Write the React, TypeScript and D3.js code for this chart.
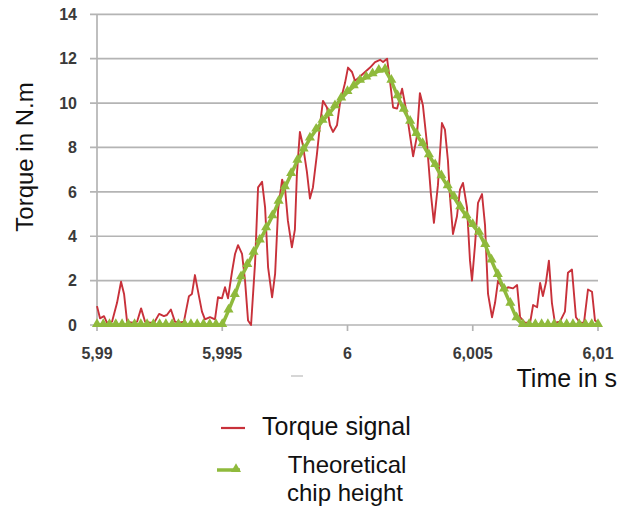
import React from 'react';
import * as d3 from 'd3';

// Torque signal (time in s, torque in N.m)
const torqueTime = [
  5.99, 5.99012, 5.99028, 5.9904, 5.9906, 5.9908, 5.99096, 5.99108, 5.9912, 5.9914,
  5.9916, 5.99176, 5.99192, 5.99212, 5.99228, 5.99248, 5.99267, 5.99279, 5.99295, 5.99311,
  5.99327, 5.99347, 5.99367, 5.99379, 5.99391, 5.99407, 5.99419, 5.99431, 5.99451, 5.99471,
  5.99483, 5.99499, 5.99511, 5.99523, 5.99539, 5.99551, 5.99563, 5.99579, 5.99591, 5.99603,
  5.99615, 5.99631, 5.99643, 5.99659, 5.99671, 5.99683, 5.99699, 5.99711, 5.99723, 5.99739,
  5.99751, 5.99762, 5.99778, 5.9979, 5.99798, 5.9981, 5.99822, 5.99838, 5.9985, 5.99862,
  5.99878, 5.9989, 5.99902, 5.99918, 5.9993, 5.99942, 5.99958, 5.9997, 5.9999, 6.00002,
  6.00018, 6.0003, 6.0005, 6.0007, 6.0009, 6.0011, 6.0013, 6.00142, 6.00158, 6.0017,
  6.00182, 6.00198, 6.00218, 6.00238, 6.0025, 6.00262, 6.00277, 6.00289, 6.00301, 6.00317,
  6.00333, 6.00345, 6.00361, 6.00377, 6.00389, 6.00401, 6.00409, 6.00421, 6.00437, 6.00449,
  6.00461, 6.00477, 6.00489, 6.00497, 6.00509, 6.00521, 6.00537, 6.00549, 6.00561, 6.00577,
  6.00589, 6.00601, 6.00617, 6.00629, 6.00641, 6.00661, 6.00677, 6.00689, 6.00709, 6.00729,
  6.00741, 6.00757, 6.00769, 6.0078, 6.00792, 6.00804, 6.00816, 6.00828, 6.00848, 6.00868,
  6.0088, 6.00896, 6.00912, 6.00928, 6.00944, 6.0096, 6.00976, 6.00988, 6.01,
];
const torqueValue = [
  0.85, 0.3, 0.4, 0.1, 0.15, 1.0, 1.95, 1.4, 0.15, 0.1,
  0.15, 0.75, 0.15, 0.1, 0.1, 0.5, 0.4, 0.45, 0.7, 0.15,
  0.1, 0.15, 1.3, 1.4, 2.25, 1.3, 0.6, 0.25, 0.35, 0.25,
  1.25, 1.2, 1.7, 1.2, 2.4, 3.2, 3.6, 3.2, 2.0, 0.2,
  0.0, 2.8, 6.2, 6.45, 5.3, 2.6, 1.25, 2.3, 5.2, 6.55,
  6.1, 4.7, 3.5, 4.3, 6.8, 8.7, 8.1, 6.9, 5.7, 6.2,
  7.7, 9.0, 10.1, 9.8, 9.0, 8.7, 9.0, 10.0, 10.9, 11.6,
  11.4, 11.0, 11.2, 11.4, 11.6, 11.85, 11.95, 11.85, 12.0, 10.95,
  9.8, 9.75, 10.65, 9.45, 8.5, 7.6, 8.5, 10.45, 9.9, 8.2,
  5.9, 4.6, 6.3, 9.1, 8.8, 7.4, 5.8, 4.1, 4.9, 6.1,
  6.4, 5.3, 2.9, 2.0, 3.6, 5.5, 5.9, 4.5, 1.4, 0.35,
  1.0, 2.0, 1.7, 1.6, 1.7, 1.65, 1.8, 0.35, 0.1, 0.1,
  0.9, 0.8, 1.9, 1.3, 1.9, 2.9, 1.0, 0.1, 0.15, 0.6,
  2.35, 2.5, 0.35, 0.1, 0.1, 1.6, 1.5, 0.2, 0.1,
];

// Theoretical chip height (sampled every 0.25 ms from 5.99 s)
const chipStart = 5.99;
const chipStep = 0.00025;
const chipValue = [
  0, 0, 0, 0, 0, 0, 0, 0, 0, 0,
  0, 0, 0, 0, 0, 0, 0, 0, 0, 0,
  0, 0.65, 1.35, 2.15, 2.7, 3.25, 3.8, 4.35, 4.9, 5.55,
  6.2, 6.8, 7.4, 7.9, 8.4, 8.8, 9.2, 9.5, 9.85, 10.2,
  10.5, 10.75, 11.0, 11.15, 11.3, 11.45, 11.5, 11.0, 10.3, 9.7,
  9.15, 8.6, 8.15, 7.65, 7.2, 6.7, 6.25, 5.75, 5.3, 4.9,
  4.5, 4.15, 3.6, 2.9, 2.25, 1.6, 0.95, 0.3, 0, 0,
  0, 0, 0, 0, 0, 0, 0, 0, 0, 0,
  0,
];

const xTicks = [5.99, 5.995, 6, 6.005, 6.01];
const xTickLabels = ['5,99', '5,995', '6', '6,005', '6,01'];
const yTicks = [0, 2, 4, 6, 8, 10, 12, 14];

const RED = '#c8313a';
const GREEN = '#8fba3c';
const GRID = '#b4b4b4';
const FONT = '"Liberation Sans", Arial, sans-serif';

export default function App() {
  const x = d3.scaleLinear().domain([5.99, 6.01]).range([97, 598]);
  const y = d3.scaleLinear().domain([0, 14]).range([325, 14.3]);

  const torque = torqueTime.map((t, i) => [t, torqueValue[i]] as [number, number]);
  const chip = chipValue.map((v, i) => [chipStart + i * chipStep, v] as [number, number]);

  const line = d3
    .line<[number, number]>()
    .x((d) => x(d[0]))
    .y((d) => y(d[1]));

  const tri = d3.symbol().type(d3.symbolTriangle).size(44)();

  return (
    <svg
      width={629}
      height={513}
      style={{ position: 'absolute', left: 0, top: 0, background: '#fff' }}
    >
      <rect width={629} height={513} fill="#fff" />
      {/* grid */}
      {yTicks.map((v) => (
        <g key={v}>
          <line x1={90} x2={598} y1={y(v)} y2={y(v)} stroke={GRID} strokeWidth={1.7} />
          <text
            x={77}
            y={y(v)}
            dy="0.36em"
            textAnchor="end"
            fontFamily={FONT}
            fontWeight="bold"
            fontSize={16}
            fill="#3a3a3a"
          >
            {v}
          </text>
        </g>
      ))}
      {/* y axis */}
      <line x1={x(5.99)} x2={x(5.99)} y1={y(14)} y2={y(0)} stroke={GRID} strokeWidth={1.7} />
      {/* x ticks */}
      {xTicks.map((t, i) => (
        <g key={t}>
          <line x1={x(t)} x2={x(t)} y1={y(0)} y2={y(0) + 6} stroke={GRID} strokeWidth={1.7} />
          <text
            x={x(t)}
            y={353}
            dy="0.36em"
            textAnchor="middle"
            fontFamily={FONT}
            fontWeight="bold"
            fontSize={16}
            fill="#3a3a3a"
          >
            {xTickLabels[i]}
          </text>
        </g>
      ))}

      {/* series */}
      <path d={line(torque) || ''} fill="none" stroke={RED} strokeWidth={1.9} strokeLinejoin="round" />
      <path d={line(chip) || ''} fill="none" stroke={GREEN} strokeWidth={3.5} strokeLinejoin="round" />
      {chip.map((d, i) => (
        <path key={i} d={tri || ''} transform={`translate(${x(d[0])},${y(d[1]) - 1})`} fill={GREEN} />
      ))}

      {/* axis titles */}
      <text
        transform="translate(33,157) rotate(-90)"
        textAnchor="middle"
        fontFamily={FONT}
        fontSize={24}
        fill="#111"
      >
        Torque in N.m
      </text>
      <text x={617} y={387} textAnchor="end" fontFamily={FONT} fontSize={25} fill="#111">
        Time in s
      </text>
      <line x1={291} x2={303} y1={376} y2={376} stroke="#c8c8c8" strokeWidth={1.5} />

      {/* legend */}
      <line x1={221} x2={245} y1={428} y2={428} stroke={RED} strokeWidth={2.2} />
      <text x={262} y={435} fontFamily={FONT} fontSize={25} fill="#111">
        Torque signal
      </text>
      <line x1={217} x2={240} y1={470} y2={470} stroke={GREEN} strokeWidth={3.5} />
      <path d={tri || ''} transform="translate(236,469)" fill={GREEN} />
      <text x={347} y={473} textAnchor="middle" fontFamily={FONT} fontSize={24} fill="#111">
        Theoretical
      </text>
      <text x={345} y={501} textAnchor="middle" fontFamily={FONT} fontSize={24} fill="#111">
        chip height
      </text>
    </svg>
  );
}
